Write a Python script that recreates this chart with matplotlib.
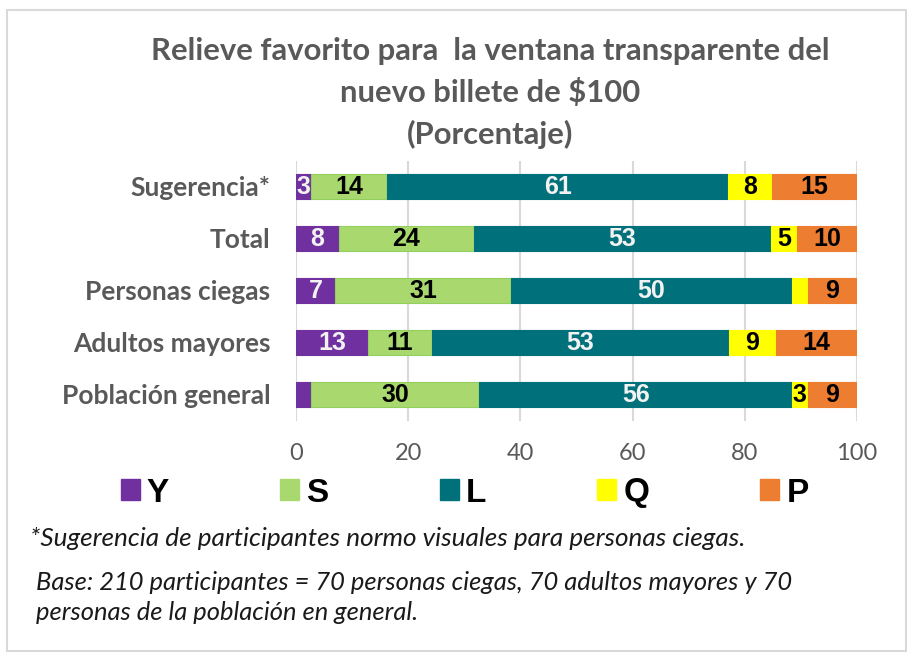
import matplotlib.pyplot as plt
from matplotlib.patches import Patch, Rectangle

categories = ['Sugerencia*', 'Total', 'Personas ciegas', 'Adultos mayores', 'Población general']
series_names = ['Y', 'S', 'L', 'Q', 'P']
y_vals = [2.7, 7.6, 7.0, 12.9, 2.7]
s_vals = [13.6, 24.1, 31.3, 11.3, 30.0]
l_vals = [60.7, 52.9, 50.1, 52.9, 55.7]
q_vals = [7.8, 4.7, 2.8, 8.5, 2.8]
p_vals = [15.2, 10.7, 8.8, 14.4, 8.8]
y_labels = ['3', '8', '7', '13', '']
s_labels = ['14', '24', '31', '11', '30']
l_labels = ['61', '53', '50', '53', '56']
q_labels = ['8', '5', '', '9', '3']
p_labels = ['15', '10', '9', '14', '9']
xticks = [0, 20, 40, 60, 80, 100]

colors = ['#7030A0', '#A9D96E', '#00717A', '#FFFF00', '#ED7D31']
edges = ['#7030A0', '#92CF5C', '#00717A', '#FFFF00', '#ED7D31']
text_colors = ['#F2F2F2', 'black', '#F2F2F2', 'black', 'black']

fig = plt.figure(figsize=(9.07, 6.55), dpi=100)
ax = fig.add_axes([296 / 907, 1 - 420.5 / 655, 561 / 907, 260 / 655])

all_vals = [y_vals, s_vals, l_vals, q_vals, p_vals]
all_labels = [y_labels, s_labels, l_labels, q_labels, p_labels]
pos = list(range(len(categories)))
left = [0] * len(categories)
for i, vals in enumerate(all_vals):
    bars = ax.barh(pos, vals, left=left, height=0.47, color=colors[i],
                   edgecolor=edges[i], linewidth=0.8, zorder=3)
    ax.bar_label(bars, labels=all_labels[i], label_type='center',
                 color=text_colors[i], fontsize=18, fontweight='bold',
                 family='Liberation Sans')
    left = [a + b for a, b in zip(left, vals)]

ax.set_xlim(0, 100)
ax.set_ylim(4.5, -0.5)
ax.set_xticks(xticks)
ax.set_yticks(pos)
ax.set_yticklabels(categories, fontsize=19, fontweight='bold', color='#595959', family='Lato')
ax.tick_params(axis='x', labelsize=17, colors='#595959', length=0, pad=16)
ax.tick_params(axis='y', length=0, pad=18.5)
for lab in ax.get_xticklabels():
    lab.set_family('Lato')
ax.grid(axis='x', color='#D9D9D9', linewidth=1.5, zorder=0)
for s in ax.spines.values():
    s.set_visible(False)

title_lines = ['Relieve favorito para  la ventana transparente del',
               'nuevo billete de $100', '(Porcentaje)']
for k, line in enumerate(title_lines):
    fig.text(490 / 907, 1 - (51 + 41.5 * k) / 655, line, ha='center', va='center',
             fontsize=22.3, fontweight='bold', color='#595959', family='Lato')

handles = [Patch(facecolor=c, edgecolor=c) for c in colors]
fig.legend(handles, series_names, loc='center left', bbox_to_anchor=(120.5 / 907, 1 - 493 / 655),
           ncol=5, frameon=False, handlelength=0.57, handleheight=0.57, handletextpad=0.22,
           columnspacing=3.33, borderaxespad=0, borderpad=0,
           prop={'family': 'Liberation Sans', 'weight': 'bold', 'size': 24})

fig.text(30 / 907, 1 - 538 / 655, '*Sugerencia de participantes normo visuales para personas ciegas.',
         fontsize=18.8, style='italic', color='#1A1A1A', family='Lato', va='center')
fig.text(36 / 907, 1 - 582 / 655, 'Base: 210 participantes = 70 personas ciegas, 70 adultos mayores y 70',
         fontsize=18.4, style='italic', color='#1A1A1A', family='Lato', va='center')
fig.text(36 / 907, 1 - 613 / 655, 'personas de la población en general.',
         fontsize=18.4, style='italic', color='#1A1A1A', family='Lato', va='center')

fig.patches.append(Rectangle((7 / 907, 4 / 655), 899 / 907, 641 / 655, transform=fig.transFigure,
                             fill=False, edgecolor='#D9D9D9', linewidth=1.5))

fig.savefig('out.png', dpi=100)
